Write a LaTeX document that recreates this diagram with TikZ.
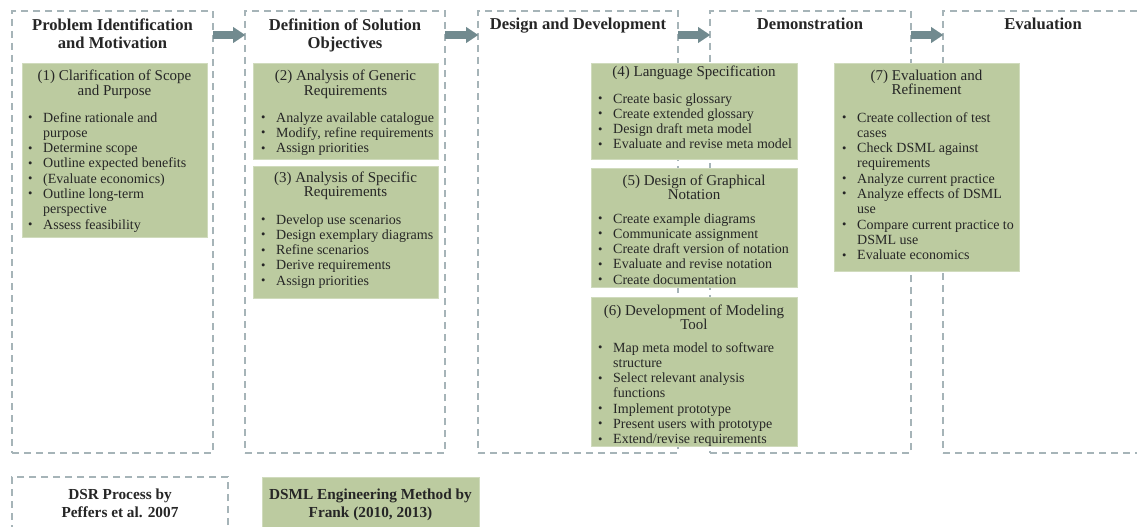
\documentclass[tikz,border=0pt]{standalone}
\usepackage{fontspec}
\setmainfont{Liberation Serif}
\usetikzlibrary{arrows.meta}
\definecolor{dashc}{RGB}{166,180,184}
\definecolor{boxg}{RGB}{188,203,160}
\definecolor{arrc}{RGB}{113,138,143}
\definecolor{txt}{RGB}{38,38,38}
\newcommand{\bul}{\makebox[15pt][l]{\raisebox{0.6pt}{\fontsize{12.5}{12.5}\selectfont\textbullet}}}
\newcommand{\ind}{\hspace*{15pt}}
\begin{document}
\begin{tikzpicture}[x=1pt,y=-1pt,
 phase/.style={draw=dashc, line width=1.3pt, dash pattern=on 7pt off 5pt, anchor=north west, inner sep=0pt, outer sep=0pt},
 gbox/.style={fill=boxg, draw=boxg!70!white, line width=0.6pt, anchor=north west, inner sep=0pt, outer sep=0pt},
 hdr/.style={font=\fontsize{16.6}{18.5}\selectfont\bfseries, text=txt, anchor=base, inner sep=0pt},
 leg/.style={font=\fontsize{15.3}{18}\selectfont\bfseries, text=txt, anchor=base, inner sep=0pt},
 ttl/.style={font=\fontsize{15}{14.7}\selectfont, text=txt, anchor=base, inner sep=0pt},
 lst/.style={font=\fontsize{14}{15.3}\selectfont, text=txt, anchor=base west, inner sep=0pt},
 flow/.style={draw=arrc, line width=8pt, -{Triangle[length=12pt,width=16pt,line width=0.1pt]}}
]
\useasboundingbox (0,0) rectangle (1137,527);
\fill[white] (0,0) rectangle (1137,527);

% DSR phases
\node[phase, minimum width=201pt, minimum height=442pt] (p1) at (12,11) {};
\node[phase, minimum width=200pt, minimum height=442pt] (p2) at (245,11) {};
\node[phase, minimum width=200pt, minimum height=442pt] (p3) at (478,11) {};
\node[phase, minimum width=201pt, minimum height=442pt] (p4) at (710,11) {};
\node[phase, minimum width=200pt, minimum height=442pt] (p5) at (943,11) {};

\draw[flow] ([yshift=-24pt]p1.north east) -- ([yshift=-24pt]p2.north west);
\draw[flow] ([yshift=-24pt]p2.north east) -- ([yshift=-24pt]p3.north west);
\draw[flow] ([yshift=-24pt]p3.north east) -- ([yshift=-24pt]p4.north west);
\draw[flow] ([yshift=-24pt]p4.north east) -- ([yshift=-24pt]p5.north west);

\node[hdr] (h1) at (112.5,30.5) {\begin{tabular}[t]{@{}c@{}}Problem Identification\\and Motivation\end{tabular}};
\node[hdr] (h2) at (345,30.5) {\begin{tabular}[t]{@{}c@{}}Definition of Solution\\Objectives\end{tabular}};
\node[hdr] (h3) at (578,30) {Design and Development};
\node[hdr] (h4) at (810,30) {Demonstration};
\node[hdr] (h5) at (1043,30) {Evaluation};

% DSML steps
\node[gbox, minimum width=185pt, minimum height=174pt] (g1) at (22,63) {};
\node[gbox, minimum width=185pt, minimum height=96pt] (g2) at (253,63) {};
\node[gbox, minimum width=185pt, minimum height=132pt] (g3) at (253,166) {};
\node[gbox, minimum width=206pt, minimum height=96pt] (g4) at (591,63) {};
\node[gbox, minimum width=206pt, minimum height=119pt] (g5) at (591,168) {};
\node[gbox, minimum width=206pt, minimum height=149pt] (g6) at (591,297) {};
\node[gbox, minimum width=185pt, minimum height=208pt] (g7) at (834,63) {};

\node[ttl] (t1) at (114.5,81) {\begin{tabular}[t]{@{}c@{}}(1) Clarification of Scope\\and Purpose\end{tabular}};
\node[ttl] (t2) at (345.5,81) {\begin{tabular}[t]{@{}c@{}}(2) Analysis of Generic\\Requirements\end{tabular}};
\node[ttl] (t3) at (345.5,182) {\begin{tabular}[t]{@{}c@{}}(3) Analysis of Specific\\Requirements\end{tabular}};
\node[ttl] (t4) at (694,76) {(4) Language Specification};
\node[ttl] (t5) at (694,185) {\begin{tabular}[t]{@{}c@{}}(5) Design of Graphical\\Notation\end{tabular}};
\node[ttl] (t6) at (694,315) {\begin{tabular}[t]{@{}c@{}}(6) Development of Modeling\\Tool\end{tabular}};
\node[ttl] (t7) at (926.5,80) {\begin{tabular}[t]{@{}c@{}}(7) Evaluation and\\Refinement\end{tabular}};

\node[lst] (l1) at (28,122) {\begin{tabular}[t]{@{}l@{}}
\bul Define rationale and\\ \ind purpose\\ \bul Determine scope\\ \bul Outline expected benefits\\
\bul (Evaluate economics)\\ \bul Outline long-term\\ \ind perspective\\ \bul Assess feasibility\end{tabular}};
\node[lst] (l2) at (261,122) {\begin{tabular}[t]{@{}l@{}}
\bul Analyze available catalogue\\ \bul Modify, refine requirements\\ \bul Assign priorities\end{tabular}};
\node[lst] (l3) at (261,224) {\begin{tabular}[t]{@{}l@{}}
\bul Develop use scenarios\\ \bul Design exemplary diagrams\\ \bul Refine scenarios\\
\bul Derive requirements\\ \bul Assign priorities\end{tabular}};
\node[lst] (l4) at (598,103) {\begin{tabular}[t]{@{}l@{}}
\bul Create basic glossary\\ \bul Create extended glossary\\ \bul Design draft meta model\\
\bul Evaluate and revise meta model\end{tabular}};
\node[lst] (l5) at (598,223) {\begin{tabular}[t]{@{}l@{}}
\bul Create example diagrams\\ \bul Communicate assignment\\ \bul Create draft version of notation\\
\bul Evaluate and revise notation\\ \bul Create documentation\end{tabular}};
\node[lst] (l6) at (598,352) {\begin{tabular}[t]{@{}l@{}}
\bul Map meta model to software\\ \ind structure\\ \bul Select relevant analysis\\ \ind functions\\
\bul Implement prototype\\ \bul Present users with prototype\\ \bul Extend/revise requirements\end{tabular}};
\node[lst] (l7) at (842,122) {\begin{tabular}[t]{@{}l@{}}
\bul Create collection of test\\ \ind cases\\ \bul Check DSML against\\ \ind requirements\\
\bul Analyze current practice\\ \bul Analyze effects of DSML\\ \ind use\\ \bul Compare current practice to\\
\ind DSML use\\ \bul Evaluate economics\end{tabular}};

% legend
\node[phase, minimum width=216pt, minimum height=60pt] (k1) at (12,477) {};
\node[gbox, minimum width=217pt, minimum height=60pt] (k2) at (262,477) {};
\node[leg] (kt1) at (120,499) {\begin{tabular}[t]{@{}c@{}}DSR Process by\\Peffers et al. 2007\end{tabular}};
\node[leg] (kt2) at (370.5,499) {\begin{tabular}[t]{@{}c@{}}DSML Engineering Method by\\Frank (2010, 2013)\end{tabular}};
\end{tikzpicture}
\end{document}
